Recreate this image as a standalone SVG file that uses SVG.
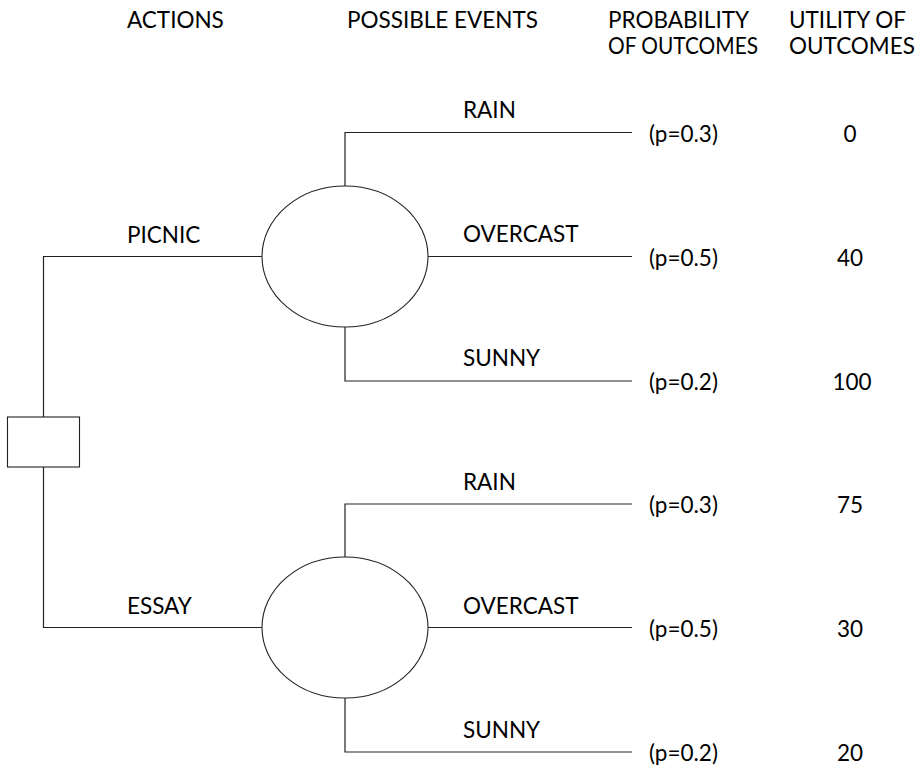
<svg xmlns="http://www.w3.org/2000/svg" width="923" height="765" viewBox="0 0 923 765">
<style>
text{font-family:Lato,"Open Sans","Liberation Sans",sans-serif;font-size:22.5px;fill:#000}
.ln{fill:none;stroke:#222;stroke-width:1.2}
.sh{fill:#fff;stroke:#222;stroke-width:1.1}
.m{text-anchor:middle}
</style>
<rect width="923" height="765" fill="#fff"/>
<g id="headers">
<text x="127" y="28">ACTIONS</text>
<text x="347" y="28">POSSIBLE EVENTS</text>
<text x="608" y="28">PROBABILITY</text>
<text x="608" y="54" textLength="150" lengthAdjust="spacingAndGlyphs">OF OUTCOMES</text>
<text x="789" y="28">UTILITY OF</text>
<text x="789" y="54">OUTCOMES</text>
</g>
<g id="connectors">
<polyline class="ln" points="43.5,417 43.5,256.5 262,256.5"/>
<polyline class="ln" points="43.5,467 43.5,627.5 262,627.5"/>
<polyline class="ln" points="345,186 345,132.5 632,132.5"/>
<line class="ln" x1="428" y1="256.5" x2="632" y2="256.5"/>
<polyline class="ln" points="345,327 345,381 632,381"/>
<polyline class="ln" points="345,557 345,504 632,504"/>
<line class="ln" x1="428" y1="627.5" x2="632" y2="627.5"/>
<polyline class="ln" points="345,698 345,752 632,752"/>
</g>
<g id="decision"><rect class="sh" x="7.5" y="417" width="72" height="50"/></g>
<g id="chance-picnic"><ellipse class="sh" cx="345" cy="256.5" rx="83" ry="70.5"/></g>
<g id="chance-essay"><ellipse class="sh" cx="345" cy="627.5" rx="83" ry="70.5"/></g>
<g id="labels">
<text x="127" y="243">PICNIC</text>
<text x="127" y="614">ESSAY</text>
<text x="463" y="118">RAIN</text>
<text x="463" y="242">OVERCAST</text>
<text x="463" y="366">SUNNY</text>
<text x="463" y="490">RAIN</text>
<text x="463" y="614">OVERCAST</text>
<text x="463" y="738">SUNNY</text>
<text x="649" y="142">(p=0.3)</text>
<text x="649" y="266">(p=0.5)</text>
<text x="649" y="390">(p=0.2)</text>
<text x="649" y="513">(p=0.3)</text>
<text x="649" y="637">(p=0.5)</text>
<text x="649" y="761">(p=0.2)</text>
<text class="m" x="850" y="142">0</text>
<text class="m" x="850" y="266">40</text>
<text class="m" x="852" y="390">100</text>
<text class="m" x="850" y="513">75</text>
<text class="m" x="850" y="637">30</text>
<text class="m" x="850" y="761">20</text>
</g>
</svg>
